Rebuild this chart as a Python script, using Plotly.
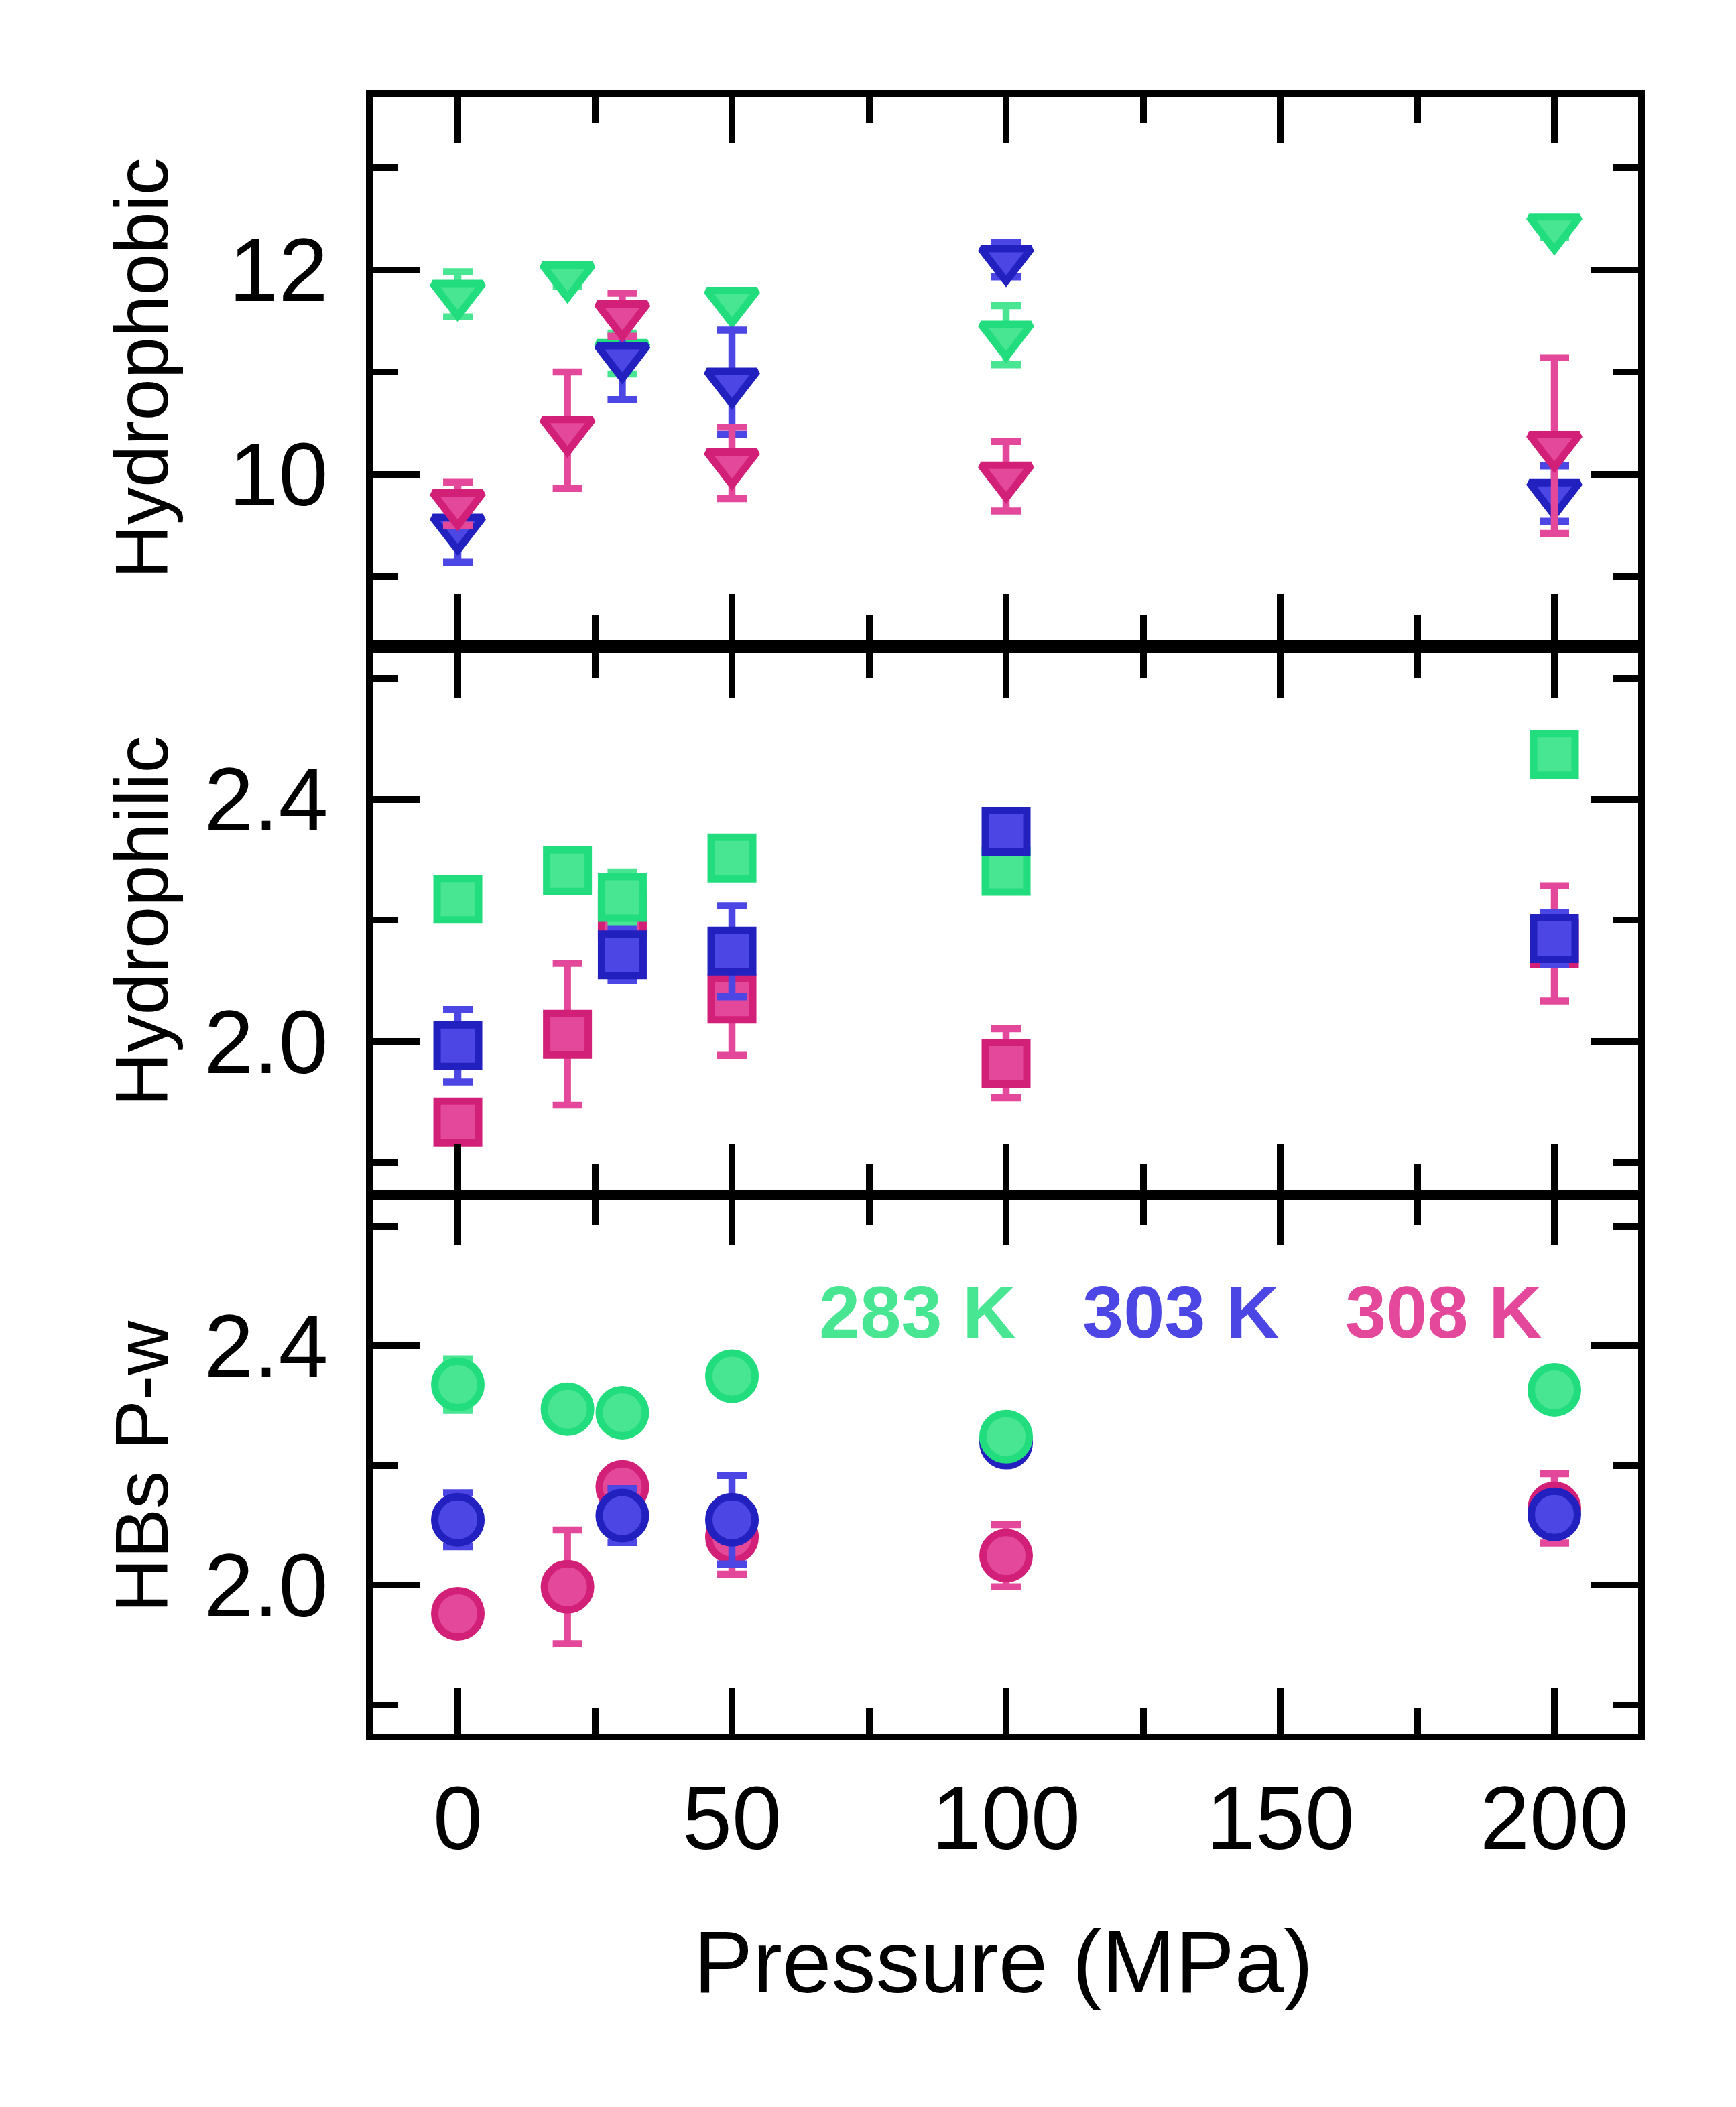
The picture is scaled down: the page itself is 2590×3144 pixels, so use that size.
import plotly.graph_objects as go

# ---------------- data ----------------
pressure_283 = [0, 20, 30, 50, 100, 200]
pressure_303 = [0, 30, 50, 100, 200]
pressure_308 = [0, 20, 30, 50, 100, 200]

phobic_283 = [11.76, 11.94, 11.18, 11.69, 11.36, 12.41]
phobic_283_err = [0.22, 0.10, 0.20, 0.05, 0.29, 0.09]
phobic_303 = [9.47, 11.15, 10.90, 12.10, 9.81]
phobic_303_err = [0.33, 0.42, 0.51, 0.17, 0.27]
phobic_308 = [9.71, 10.43, 11.56, 10.11, 9.98, 10.28]
phobic_308_err = [0.21, 0.57, 0.21, 0.35, 0.34, 0.86]

philic_283 = [2.235, 2.282, 2.238, 2.303, 2.281, 2.474]
philic_283_err = [0.01, 0.01, 0.042, 0.01, 0.01, 0.01]
philic_303 = [1.993, 2.143, 2.149, 2.347, 2.170]
philic_303_err = [0.06, 0.042, 0.075, 0.01, 0.043]
philic_308 = [1.867, 2.012, 2.21, 2.070, 1.964, 2.162]
philic_308_err = [0.01, 0.117, 0.02, 0.093, 0.057, 0.095]

hbs_283 = [2.335, 2.294, 2.288, 2.349, 2.248, 2.326]
hbs_283_err = [0.043, 0.01, 0.02, 0.01, 0.01, 0.01]
hbs_303 = [2.109, 2.116, 2.109, 2.238, 2.118]
hbs_303_err = [0.045, 0.045, 0.074, 0.01, 0.03]
hbs_308 = [1.952, 1.997, 2.164, 2.08, 2.049, 2.128]
hbs_308_err = [0.01, 0.095, 0.01, 0.062, 0.052, 0.058]

temp_labels = ["283 K", "303 K", "308 K"]
x_tick_vals = [0, 50, 100, 150, 200]
y_titles = ["Hydrophobic", "Hydrophilic", "HBs P-w"]
x_title = "Pressure (MPa)"

# ---------------- style ----------------
OFF = 8                     # page body margin
PAGE_W, PAGE_H = 2590, 3144
W, H = PAGE_W - OFF, PAGE_H - OFF
# plot area edges in page pixels
P_LEFT, P_RIGHT, P_TOP, P_BOT = 556, 2444, 145, 2587
ML = P_LEFT - OFF
MR = W - (P_RIGHT - OFF)
MT = P_TOP - OFF
MB = H - (P_BOT - OFF)
FONT = "Liberation Sans, Arial, sans-serif"

FILL = {"283": "#48E592", "303": "#4B46E4", "308": "#E4489A"}
EDGE = {"283": "#22DD7E", "303": "#2220BE", "308": "#D22078"}

fig = go.Figure()


def add(xs, ys, es, key, symbol, size, xa, ya):
    fig.add_trace(go.Scatter(
        x=xs, y=ys, mode="markers", xaxis=xa, yaxis=ya,
        error_y=dict(type="data", array=es, visible=True, color=FILL[key],
                     thickness=10.5, width=22),
        marker=dict(symbol=symbol, size=size, color=FILL[key],
                    line=dict(color=EDGE[key], width=11)),
        showlegend=False, cliponaxis=False,
    ))


TRI, SQ, CIR = 65, 62, 69

# top panel (hydrophobic) - triangles
add(pressure_283, phobic_283, phobic_283_err, "283", "triangle-down", TRI, "x", "y")
add(pressure_303, phobic_303, phobic_303_err, "303", "triangle-down", TRI, "x", "y")
add(pressure_308, phobic_308, phobic_308_err, "308", "triangle-down", TRI, "x", "y")

# middle panel (hydrophilic) - squares
add(pressure_308, philic_308, philic_308_err, "308", "square", SQ, "x2", "y2")
add(pressure_283, philic_283, philic_283_err, "283", "square", SQ, "x2", "y2")
add(pressure_303, philic_303, philic_303_err, "303", "square", SQ, "x2", "y2")

# bottom panel (HBs) - circles
add(pressure_308, hbs_308, hbs_308_err, "308", "circle", CIR, "x3", "y3")
add(pressure_303, hbs_303, hbs_303_err, "303", "circle", CIR, "x3", "y3")
add(pressure_283, hbs_283, hbs_283_err, "283", "circle", CIR, "x3", "y3")

plot_h = P_BOT - P_TOP
plot_w = P_RIGHT - P_LEFT
dom_bottom = [0, (P_BOT - 1790) / plot_h]
dom_middle = [(P_BOT - 1775) / plot_h, (P_BOT - 974) / plot_h]
dom_top = [(P_BOT - 955) / plot_h, 1]

common = dict(
    showline=True, linewidth=10, linecolor="black", mirror="ticks",
    ticks="inside", tickwidth=10, tickcolor="black",
    showgrid=False, zeroline=False,
    tickfont=dict(family=FONT, size=133, color="black"),
)

xcommon = dict(common, range=[-15.53, 215.28], tickvals=x_tick_vals, ticklen=68,
               minor=dict(tick0=0, dtick=25, ticks="inside", ticklen=38,
                          tickwidth=10, tickcolor="black", showgrid=False))


def yminor(d):
    return dict(tick0=0, dtick=d, ticks="inside", ticklen=38,
                tickwidth=10, tickcolor="black", showgrid=False)


fig.update_layout(
    width=W, height=H,
    margin=dict(l=ML, r=MR, t=MT, b=MB, pad=0),
    paper_bgcolor="white", plot_bgcolor="white",
    xaxis=dict(xcommon, anchor="y", domain=[0, 1], showticklabels=False),
    xaxis2=dict(xcommon, anchor="y2", domain=[0, 1], showticklabels=False),
    xaxis3=dict(xcommon, anchor="y3", domain=[0, 1],
                showticklabels=True, ticklabelstandoff=2),
    yaxis=dict(common, anchor="x", domain=dom_top, range=[8.377, 13.689],
               tickvals=[10, 12], ticktext=["10", "12"], ticklen=70,
               ticklabelstandoff=30, minor=yminor(1)),
    yaxis2=dict(common, anchor="x2", domain=dom_middle, range=[1.7555, 2.6418],
                tickvals=[2.0, 2.4], ticktext=["2.0", "2.4"], ticklen=70,
                ticklabelstandoff=30, minor=yminor(0.2)),
    yaxis3=dict(common, anchor="x3", domain=dom_bottom, range=[1.7513, 2.6443],
                tickvals=[2.0, 2.4], ticktext=["2.0", "2.4"], ticklen=70,
                ticklabelstandoff=30, minor=yminor(0.2)),
)


def px_x(p):
    return (p - P_LEFT) / plot_w


def px_y(p):
    return (P_BOT - p) / plot_h


annotations = []
for title, center in zip(y_titles, [550, 1374.5, 2188.5]):
    annotations.append(dict(
        text=title, textangle=-90, xref="paper", yref="paper",
        x=px_x(211), y=px_y(center), xanchor="center", yanchor="middle",
        showarrow=False, font=dict(family=FONT, size=112, color="black")))

annotations.append(dict(
    text=x_title, xref="paper", yref="paper", x=px_x(1497), y=px_y(2928),
    xanchor="center", yanchor="middle", showarrow=False,
    font=dict(family=FONT, size=132, color="black")))

for label, key, xpix in zip(temp_labels, ["283", "303", "308"], [1220, 1613, 2005]):
    annotations.append(dict(
        text="<b>" + label + "</b>", xref="paper", yref="paper",
        x=px_x(xpix), y=px_y(1957), xanchor="left", yanchor="middle",
        showarrow=False, font=dict(family=FONT, size=110, color=FILL[key])))

fig.update_layout(annotations=annotations)

fig.write_html("out.html")
